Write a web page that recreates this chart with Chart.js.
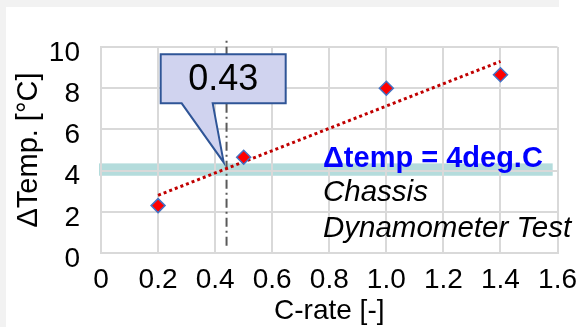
<!DOCTYPE html>
<html>
<head>
<meta charset="utf-8">
<script src="https://cdn.jsdelivr.net/npm/chart.js@4.4.0/dist/chart.umd.min.js"></script>
<style>
  html, body { margin: 0; padding: 0; background: #fff; }
  #wrap { width: 587px; height: 327px; }
</style>
</head>
<body>
<div id="wrap"><canvas id="tempChart" width="587" height="327"></canvas></div>
<script>
// measured points
const cRate = [0.2, 0.5, 1.0, 1.4];
const deltaTemp = [2.3, 4.65, 8.0, 8.65];

// linear trend line
const trendX = [0.2, 1.4];
const trendY = [2.8, 9.3];

// dash-dot marker line
const markerX = [0.44, 0.44];
const markerY = [0.35, 10.35];

const xTicks = [0, 0.2, 0.4, 0.6, 0.8, 1.0, 1.2, 1.4, 1.6];
const yTicks = [0, 2, 4, 6, 8, 10];

// 4 deg.C band
const bandY = [3.75, 4.35];
const bandX = [-0.007, 1.583];

const calloutText = '0.43';
const calloutPoint = [0.43, 4.4];
const noteLines = ['Δtemp = 4deg.C', 'Chassis', 'Dynamometer Test'];

Chart.defaults.font.family = '"Liberation Sans", Arial, sans-serif';
Chart.defaults.color = '#000';

const toPoints = (xs, ys) => xs.map((x, i) => ({ x: x, y: ys[i] }));

// background strips + teal band (under the grid)
const backdrop = {
  id: 'backdrop',
  beforeDraw(chart) {
    const { ctx, scales: { x, y } } = chart;
    ctx.save();
    ctx.fillStyle = '#f2f2f2';
    ctx.fillRect(0, 0, 559, 7);
    ctx.fillRect(0, 0, 6, chart.height);
    ctx.fillStyle = '#b4dcdc';
    const x0 = x.getPixelForValue(bandX[0]);
    const x1 = x.getPixelForValue(bandX[1]);
    const y0 = y.getPixelForValue(bandY[1]);
    const y1 = y.getPixelForValue(bandY[0]);
    ctx.fillRect(x0, y0, x1 - x0, y1 - y0);
    ctx.restore();
  }
};

// callout box and text notes
const notes = {
  id: 'notes',
  afterDatasetsDraw(chart) {
    const { ctx, scales: { x, y }, chartArea } = chart;
    ctx.save();
    const tx = x.getPixelForValue(calloutPoint[0]);
    const ty = y.getPixelForValue(calloutPoint[1]);
    const left = tx - 63, right = tx + 62, top = ty - 108, bottom = ty - 59;
    ctx.beginPath();
    ctx.moveTo(left, top);
    ctx.lineTo(right, top);
    ctx.lineTo(right, bottom);
    ctx.lineTo(tx - 11, bottom);
    ctx.lineTo(tx, ty);
    ctx.lineTo(tx - 42, bottom);
    ctx.lineTo(left, bottom);
    ctx.closePath();
    ctx.fillStyle = '#d0d3ef';
    ctx.fill();
    ctx.lineWidth = 2;
    ctx.strokeStyle = '#2f5597';
    ctx.stroke();
    ctx.fillStyle = '#000';
    ctx.font = '36px "Liberation Sans", Arial, sans-serif';
    ctx.textAlign = 'center';
    ctx.textBaseline = 'middle';
    ctx.fillText(calloutText, (left + right) / 2, (top + bottom) / 2 + 1);

    const nx = chartArea.left + 222;
    ctx.textAlign = 'left';
    ctx.textBaseline = 'alphabetic';
    ctx.fillStyle = '#0000ff';
    ctx.font = 'bold 29px "Liberation Sans", Arial, sans-serif';
    ctx.fillText(noteLines[0], nx, chartArea.top + 120);
    ctx.fillStyle = '#000';
    ctx.font = 'italic 29.5px "Liberation Sans", Arial, sans-serif';
    ctx.fillText(noteLines[1], nx, chartArea.top + 154);
    ctx.fillText(noteLines[2], nx, chartArea.top + 190);
    ctx.restore();
  }
};

const tickFont = { size: 28 };

new Chart(document.getElementById('tempChart'), {
  type: 'scatter',
  data: {
    datasets: [
      {
        label: 'Delta temp',
        data: toPoints(cRate, deltaTemp),
        pointStyle: 'rectRot',
        pointRadius: 7,
        pointBackgroundColor: '#ff0000',
        pointBorderColor: '#4472c4',
        pointBorderWidth: 1.5,
        showLine: false
      },
      {
        label: 'Trend',
        data: toPoints(trendX, trendY),
        showLine: true,
        borderColor: '#c00000',
        borderWidth: 3,
        borderDash: [3, 3],
        pointRadius: 0
      },
      {
        label: 'Marker',
        data: toPoints(markerX, markerY),
        showLine: true,
        borderColor: '#595959',
        borderWidth: 2,
        borderDash: [9, 4, 2, 4],
        pointRadius: 0,
        clip: false
      }
    ]
  },
  options: {
    responsive: false,
    animation: false,
    devicePixelRatio: 1,
    layout: { padding: { top: 47, right: 23, left: 0, bottom: 0 } },
    plugins: {
      legend: { display: false },
      tooltip: { enabled: false }
    },
    scales: {
      x: {
        type: 'linear',
        min: 0,
        max: 1.6,
        afterBuildTicks: (s) => { s.ticks = xTicks.map(v => ({ value: v })); },
        afterFit: (s) => { s.height = 74; },
        grid: { color: '#d9d9d9', lineWidth: 2, drawTicks: false },
        border: { color: '#d9d9d9', width: 2 },
        ticks: {
          font: tickFont,
          padding: 10,
          autoSkip: false,
          maxRotation: 0,
          callback: (v) => (v === 0 ? '0' : v.toFixed(1))
        },
        title: {
          display: true,
          text: 'C-rate [-]',
          font: tickFont,
          padding: { top: 0, bottom: -1 }
        }
      },
      y: {
        min: 0,
        max: 10,
        afterBuildTicks: (s) => { s.ticks = yTicks.map(v => ({ value: v })); },
        afterFit: (s) => { s.width = 101; },
        grid: { color: '#d9d9d9', lineWidth: 2, drawTicks: false },
        border: { color: '#d9d9d9', width: 2 },
        ticks: {
          font: tickFont,
          padding: 21,
          labelOffset: 6
        },
        title: {
          display: true,
          text: 'ΔTemp. [°C]',
          font: { size: 29 },
          padding: { top: 12, bottom: 0 }
        }
      }
    }
  },
  plugins: [backdrop, notes]
});
</script>
</body>
</html>
